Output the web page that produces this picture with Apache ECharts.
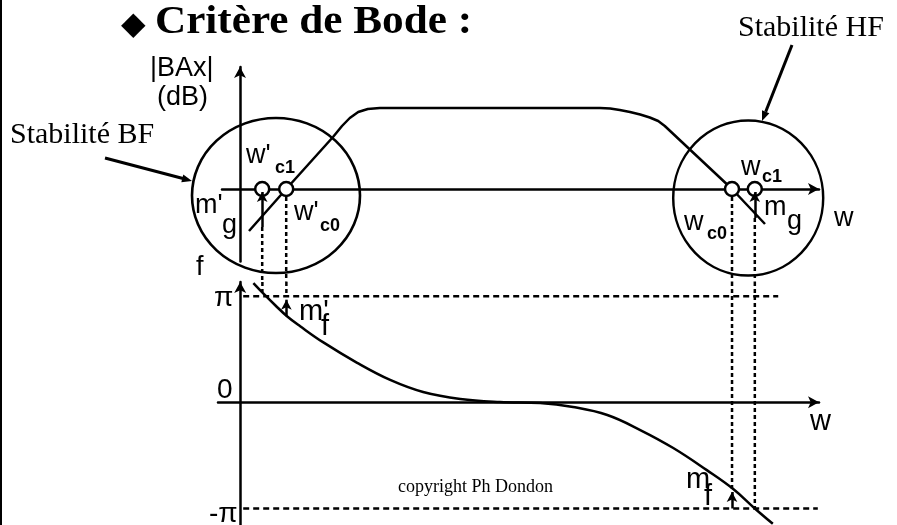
<!DOCTYPE html>
<html>
<head>
<meta charset="utf-8">
<script src="https://cdn.jsdelivr.net/npm/echarts@6/dist/echarts.min.js"></script>
<style>
  html, body { margin: 0; padding: 0; background: #fff; }
  #main { width: 897px; height: 525px; }
</style>
</head>
<body>
<div id="main"></div>
<script>
// pulsations caracteristiques (echelle log, unites arbitraires)
var wC1p = 3.7, wC0p = 7.7, wC0 = 82.0, wC1 = 85.8;

// gain |BAx| en dB
var gainW  = [1.5, 7.7, 15.5, 17.0, 18.3, 19.7, 21.3, 23.3, 60.0, 61.7, 63.3, 65.0, 66.7, 68.3, 69.7, 70.8, 82.0, 87.5];
var gainDb = [-16.8, 0, 20.8, 25.2, 28.4, 30.8, 32.0, 32.4, 32.4, 32.2, 31.6, 30.8, 29.8, 28.6, 27.2, 25.2, 0, -14.0];

// phase en degres
var phaseW   = [2.2, 3.8, 5.8, 7.8, 10.0, 13.8, 19.5, 25.0, 30.5, 36.7, 43.3, 50.0, 55.5, 61.2, 66.7, 72.2, 77.8, 82.2, 85.8, 88.8];
var phaseDeg = [202, 185, 165, 146, 129, 102, 67, 38, 17.5, 5.6, 0.5, -1.2, -8, -21.5, -47, -77.5, -115, -147, -180, -206];

// marges (debut, fin de la fleche)
var margeGainBF  = [-15.2, -1.2];
var margeGainHF  = [-11.6, -1.2];
var margePhaseBF = [146, 174];
var margePhaseHF = [-180, -152];

// lignes +pi / -pi
var piW = [0.5, 89.7];
var moinsPiW = [0.5, 96.3];
var piDeg = 180;

// zones entourees (centre w, dB)
var zonesW  = [6.0, 84.7];
var zonesDb = [-2.6, -3.6];

// rappels verticaux : [w, haut dB, haut phase, bas phase]
var rappelW        = [wC1p, wC0p, wC0, wC1];
var rappelHautDb   = [-15.2, -3.2, -3.2, -11.6];
var rappelBasPhase = [187, 180, -147, -180];
var basDb = -37, hautPhase = 204;

var chart = echarts.init(document.getElementById('main'));

function zip(a, b) {
  return a.map(function (v, i) { return [v, b[i]]; });
}

function axe(o) {
  o.type = 'value';
  o.axisLine = {
    onZero: true,
    symbol: ['none', 'arrow'],
    symbolSize: [9, 11],
    lineStyle: { color: '#000', width: 2.5 }
  };
  o.axisTick = { show: false };
  o.axisLabel = { show: false };
  o.splitLine = { show: false };
  return o;
}

var noir = { color: '#000', width: 2.5 };

function fleches(list) {
  return {
    silent: true,
    symbol: ['none', 'arrow'],
    symbolSize: [8, 10],
    label: { show: false },
    lineStyle: { color: '#000', width: 2.5, type: 'solid' },
    data: list
  };
}

var series = [];

series.push({
  type: 'line', xAxisIndex: 0, yAxisIndex: 0,
  data: zip(gainW, gainDb), symbol: 'none', smooth: false,
  lineStyle: noir, clip: false, silent: true, z: 3,
  markLine: fleches([
    [{ coord: [wC1p, margeGainBF[0]] }, { coord: [wC1p, margeGainBF[1]] }],
    [{ coord: [wC1, margeGainHF[0]] }, { coord: [wC1, margeGainHF[1]] }]
  ])
});

series.push({
  type: 'line', xAxisIndex: 1, yAxisIndex: 1,
  data: zip(phaseW, phaseDeg), symbol: 'none', smooth: 0.4,
  lineStyle: noir, clip: false, silent: true, z: 3,
  markLine: fleches([
    [{ coord: [wC0p, margePhaseBF[0]] }, { coord: [wC0p, margePhaseBF[1]] }],
    [{ coord: [wC0, margePhaseHF[0]] }, { coord: [wC0, margePhaseHF[1]] }]
  ])
});

[[piW, piDeg], [moinsPiW, -piDeg]].forEach(function (p) {
  series.push({
    type: 'line', xAxisIndex: 1, yAxisIndex: 1,
    data: [[p[0][0], p[1]], [p[0][1], p[1]]], symbol: 'none', silent: true,
    lineStyle: { color: '#000', width: 2.5, type: [6, 4] }, z: 2
  });
});

rappelW.forEach(function (w, i) {
  series.push({
    type: 'line', xAxisIndex: 0, yAxisIndex: 0, clip: false,
    data: [[w, rappelHautDb[i]], [w, basDb]], symbol: 'none', silent: true,
    lineStyle: { color: '#000', width: 2.5, type: [4, 3] }, z: 2
  });
  series.push({
    type: 'line', xAxisIndex: 1, yAxisIndex: 1, clip: false,
    data: [[w, hautPhase], [w, rappelBasPhase[i]]], symbol: 'none', silent: true,
    lineStyle: { color: '#000', width: 2.5, type: [4, 3] }, z: 2
  });
});

series.push({
  type: 'scatter', xAxisIndex: 0, yAxisIndex: 0, clip: false, silent: true,
  data: [
    { value: [zonesW[0], zonesDb[0]], symbolSize: [168, 155] },
    { value: [zonesW[1], zonesDb[1]], symbolSize: [150, 155] }
  ],
  symbol: 'circle',
  itemStyle: { color: 'rgba(0,0,0,0)', borderColor: '#000', borderWidth: 2.5, opacity: 1 },
  z: 2
});

series.push({
  type: 'scatter', xAxisIndex: 0, yAxisIndex: 0, clip: false, silent: true,
  data: [[wC1p, 0], [wC0p, 0], [wC0, 0], [wC1, 0]],
  symbol: 'circle', symbolSize: 14,
  itemStyle: { color: '#fff', borderColor: '#000', borderWidth: 2.5, opacity: 1 },
  z: 4
});

// textes : [texte, x, ligne de base, police, etirement horizontal]
var SANS = 'Liberation Sans', SERIF = 'Liberation Serif';
var textes = [
  ['Critère de Bode :', 155, 36, 'bold 40px ' + SERIF, 1.08],
  ['Stabilité HF', 738, 38, '30px ' + SERIF],
  ['Stabilité BF', 10, 145, '30px ' + SERIF],
  ['|BAx|', 150, 78, '27px ' + SANS],
  ['(dB)', 157, 107, '27px ' + SANS],
  ["w'", 246, 165, '27px ' + SANS],
  ['c1', 275, 174, 'bold 18px ' + SANS],
  ["m'", 195, 215, '27px ' + SANS],
  ['g', 222, 235, '27px ' + SANS],
  ["w'", 294, 222, '27px ' + SANS],
  ['c0', 320, 232, 'bold 18px ' + SANS],
  ['f', 196, 277, '27px ' + SANS],
  ['w', 741, 177, '27px ' + SANS],
  ['c1', 762, 183, 'bold 18px ' + SANS],
  ['m', 764, 217, '27px ' + SANS],
  ['g', 787, 231, '27px ' + SANS],
  ['w', 834, 228, '27px ' + SANS],
  ['w', 684, 232, '27px ' + SANS],
  ['c0', 707, 240, 'bold 18px ' + SANS],
  ['π', 214, 308, '28px ' + SANS],
  ['0', 217, 400, '28px ' + SANS],
  ['-π', 209, 524, '28px ' + SANS],
  ["m'", 299, 322, '29px ' + SANS],
  ['f', 321, 337, '29px ' + SANS],
  ['m', 686, 490, '29px ' + SANS],
  ['f', 704, 507, '29px ' + SANS],
  ['w', 810, 432, '29px ' + SANS],
  ['copyright Ph Dondon', 398, 493, '18px ' + SERIF]
];

var graphic = [
  { type: 'rect', shape: { x: 0, y: 0, width: 2, height: 525 }, style: { fill: '#000' } },
  { type: 'text', x: 121, y: 26, style: { text: '◆', font: '32px DejaVu Sans', fill: '#000', verticalAlign: 'middle' } },
  { type: 'line', shape: { x1: 105, y1: 158, x2: 183, y2: 178.5 }, style: { stroke: '#000', lineWidth: 3 } },
  { type: 'polygon', shape: { points: [[192, 181], [181.3, 182.3], [183.3, 174.5]] }, style: { fill: '#000' } },
  { type: 'line', shape: { x1: 792, y1: 45, x2: 765.7, y2: 111.7 }, style: { stroke: '#000', lineWidth: 3 } },
  { type: 'polygon', shape: { points: [[762, 121], [769.4, 113.2], [762.0, 110.2]] }, style: { fill: '#000' } }
];
textes.forEach(function (t) {
  var size = parseFloat(t[3].match(/(\d+)px/)[1]);
  graphic.push({
    type: 'text', x: t[1], y: t[2] - 0.34 * size, z: 10, scaleX: t[4] || 1,
    style: { text: t[0], font: t[3], fill: '#000', verticalAlign: 'middle' }
  });
});

var option = {
  animation: false,
  backgroundColor: '#fff',
  grid: [
    { left: 222, right: 78, top: 67, bottom: 263.5 },
    { left: 218, right: 78, top: 282, bottom: 0 }
  ],
  xAxis: [
    axe({ gridIndex: 0, min: -3, max: 96.5 }),
    axe({ gridIndex: 1, min: -3.7, max: 96.5 })
  ],
  yAxis: [
    axe({ gridIndex: 0, min: -29, max: 48.8 }),
    axe({ gridIndex: 1, min: -208, max: 204 })
  ],
  series: series,
  graphic: graphic
};
chart.setOption(option);
</script>
</body>
</html>
